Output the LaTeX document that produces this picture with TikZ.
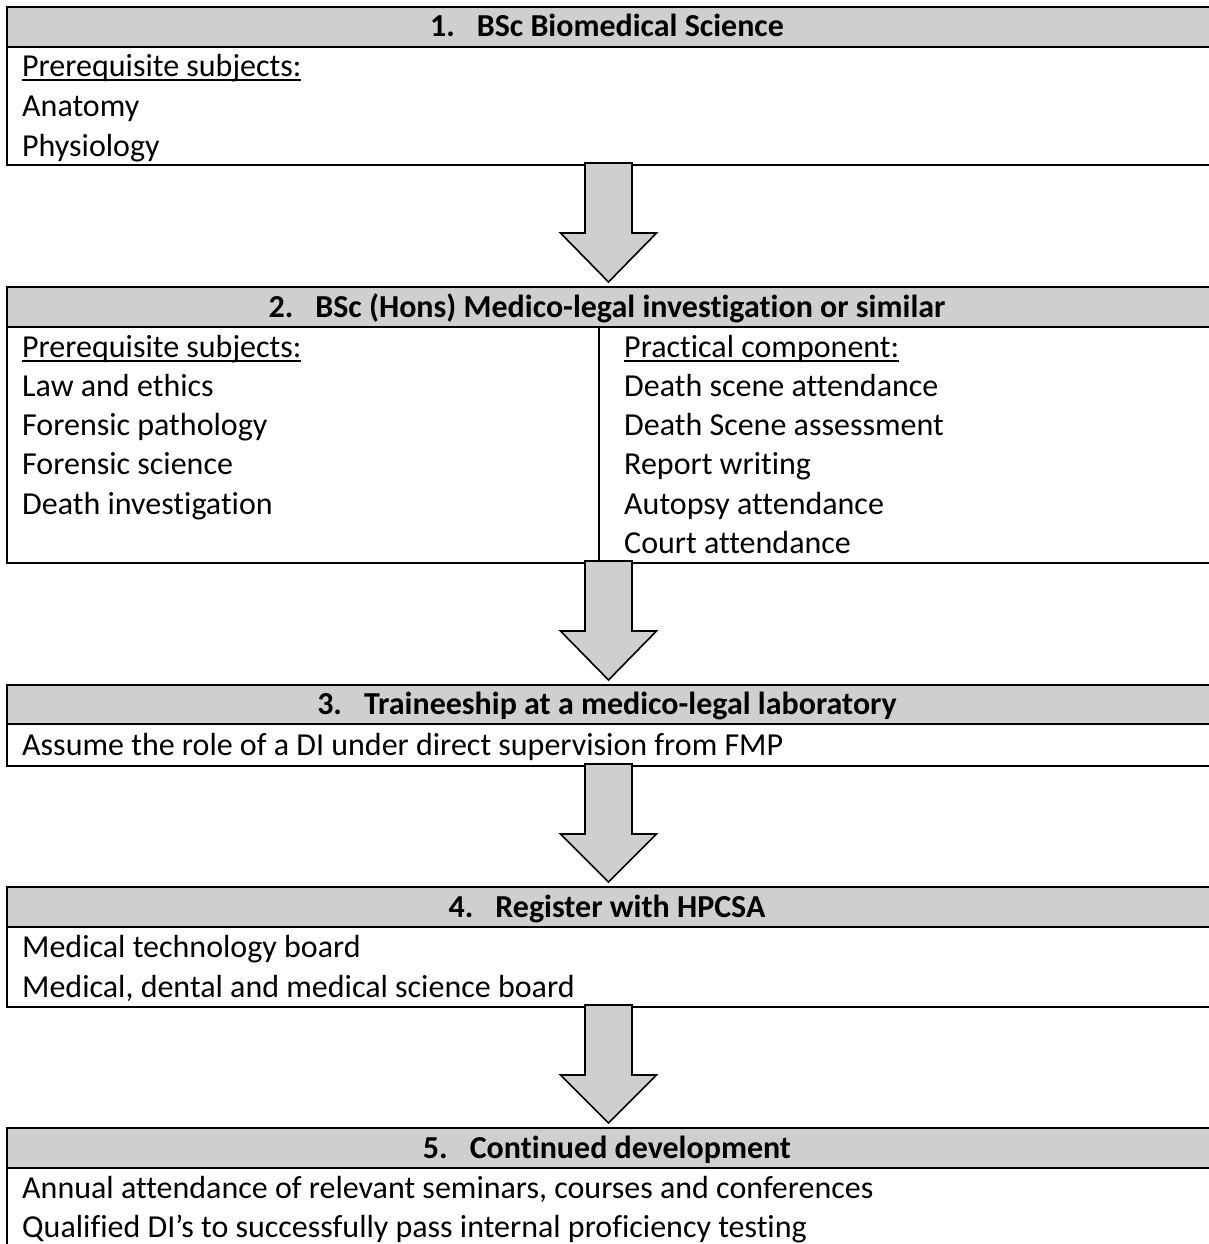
\documentclass[tikz,border=0pt]{standalone}
\usepackage{fontspec}
\setmainfont{Carlito}[Ligatures={NoCommon}]
\usetikzlibrary{calc}
\definecolor{hdrgray}{HTML}{D0CECE}
\newcommand{\ulx}[1]{\setbox0\hbox{#1}\rlap{\rule[-4.5pt]{\wd0}{2pt}}\box0}
\newcommand{\flowarrow}[2]{%
  \draw[blockarr] ($(#1)+(-23.5,-2)$) -- ($(#1)+(23.5,-2)$) -- ($(#1)+(23.5,68)$) -- ($(#1)+(48,68)$) -- ($(#2)+(0,-5)$) -- ($(#1)+(-48,68)$) -- ($(#1)+(-23.5,68)$) -- cycle;}
\tikzset{
  boxline/.style={draw=black, line width=2pt},
  headfill/.style={fill=hdrgray, draw=black, line width=2pt},
  txt/.style={anchor=base west, inner sep=0pt, font=\fontsize{32}{38}\selectfont},
  hd/.style={anchor=base, inner sep=0pt, font=\fontsize{32}{38}\selectfont\bfseries},
  blockarr/.style={fill=hdrgray, draw=black, line width=1.6pt, line join=miter}
}
\begin{document}
\begin{tikzpicture}[x=1pt,y=-1pt]
\useasboundingbox (0,0) rectangle (1209,1244);
\clip (0,0) rectangle (1209,1244);
\fill[white] (0,0) rectangle (1209,1244);
% ---------- Box 1
\path[headfill] (7,7) rectangle (1215,47);
\draw[boxline] (7,7) rectangle (1215,165);
\node[hd] (h1) at (607,37) {1.\hspace{22pt}BSc Biomedical Science};
\node[txt] (t11) at (22,77) {\ulx{Prerequisite subjects:}};
\node[txt] (t12) at (22,117) {Anatomy};
\node[txt] (t13) at (22,157) {Physiology};
\coordinate (b1s) at (608.5,165);
% ---------- Box 2
\path[headfill] (7,287) rectangle (1215,327);
\draw[boxline] (7,287) rectangle (1215,563);
\draw[boxline] (599,327) -- (599,563);
\node[hd] (h2) at (607,317) {2.\hspace{22pt}BSc (Hons) Medico-legal investigation or similar};
\coordinate (b2n) at (608.5,287);
\coordinate (b2s) at (608.5,563);
\node[txt] (l21) at (22,357) {\ulx{Prerequisite subjects:}};
\node[txt] (l22) at (22,396) {Law and ethics};
\node[txt] (l23) at (22,435.5) {Forensic pathology};
\node[txt] (l24) at (22,474.5) {Forensic science};
\node[txt] (l25) at (22,514) {Death investigation};
\node[txt] (r21) at (624,357) {\ulx{Practical component:}};
\node[txt] (r22) at (624,396) {Death scene attendance};
\node[txt] (r23) at (624,435.5) {Death Scene assessment};
\node[txt] (r24) at (624,474.5) {Report writing};
\node[txt] (r25) at (624,514) {Autopsy attendance};
\node[txt] (r26) at (624,553.5) {Court attendance};
% ---------- Box 3
\path[headfill] (7,685) rectangle (1215,724);
\draw[boxline] (7,685) rectangle (1215,766);
\node[hd] (h3) at (607,714.5) {3.\hspace{22pt}Traineeship at a medico-legal laboratory};
\node[txt] (t31) at (22,755) {Assume the role of a DI under direct supervision from FMP};
\coordinate (b3n) at (608.5,685);
\coordinate (b3s) at (608.5,766);
% ---------- Box 4
\path[headfill] (7,887) rectangle (1215,927);
\draw[boxline] (7,887) rectangle (1215,1007);
\node[hd] (h4) at (607,917) {4.\hspace{22pt}Register with HPCSA};
\node[txt] (t41) at (22,957) {Medical technology board};
\node[txt] (t42) at (22,997) {Medical, dental and medical science board};
\coordinate (b4n) at (608.5,887);
\coordinate (b4s) at (608.5,1007);
% ---------- Box 5
\path[headfill] (7,1128) rectangle (1215,1168);
\draw[boxline] (7,1128) rectangle (1215,1260);
\node[hd] (h5) at (607,1158) {5.\hspace{22pt}Continued development};
\node[txt] (t51) at (22,1198) {Annual attendance of relevant seminars, courses and conferences};
\node[txt] (t52) at (22,1237) {Qualified DI’s to successfully pass internal proficiency testing};
\coordinate (b5n) at (608.5,1128);
% ---------- Arrows
\flowarrow{b1s}{b2n}
\flowarrow{b2s}{b3n}
\flowarrow{b3s}{b4n}
\flowarrow{b4s}{b5n}
\end{tikzpicture}
\end{document}
